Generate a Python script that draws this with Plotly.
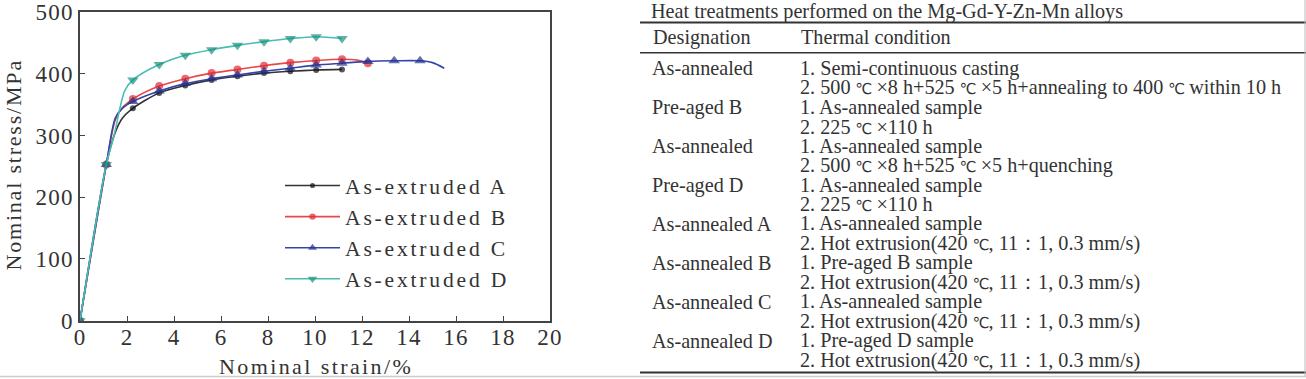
import plotly.graph_objects as go

W, H = 1306, 379

# ---------------- data ----------------
marker_strain = [0, 1.12, 2.25, 3.37, 4.48, 5.6, 6.7, 7.83, 8.95, 10.05, 11.15, 12.25, 13.37, 14.47]

strain_A = [0, 1.12, 1.5, 1.8, 2.25, 3.37, 4.48, 5.6, 6.7, 7.83, 8.95, 10.05, 11.15]
stress_A = [0, 253, 305, 328, 344, 369, 381, 390, 396, 401, 404, 406, 407]

strain_B = [0, 1.12, 1.5, 1.8, 2.25, 3.37, 4.48, 5.6, 6.7, 7.83, 8.95, 10.05, 11.15, 11.8, 12.25]
stress_B = [0, 253, 325, 345, 359, 380, 392, 401, 407, 413, 418, 421.5, 423.5, 422, 417]

strain_C = [0, 1.12, 1.5, 1.8, 2.25, 3.37, 4.48, 5.6, 6.7, 7.83, 8.95, 10.05, 11.15, 12.25, 13.37, 14.47, 15.0, 15.5]
stress_C = [0, 253, 328, 344, 355, 372, 384, 392, 398, 404, 409, 414, 417, 420, 421, 421, 418, 409]

strain_D = [0, 1.12, 1.45, 1.9, 2.25, 3.37, 4.48, 5.6, 6.7, 7.83, 8.95, 10.05, 11.15]
stress_D = [0, 253, 300, 372, 390, 415, 430, 439, 446, 452, 457, 460, 457]

series_names = ["As-extruded A", "As-extruded B", "As-extruded C", "As-extruded D"]

x_ticks = [0, 2, 4, 6, 8, 10, 12, 14, 16, 18, 20]
y_ticks = [0, 100, 200, 300, 400, 500]

table_title = "Heat treatments performed on the Mg-Gd-Y-Zn-Mn alloys"
table_headers = ["Designation", "Thermal condition"]
designations = ["As-annealed", "Pre-aged B", "As-annealed", "Pre-aged D",
                "As-annealed A", "As-annealed B", "As-annealed C", "As-annealed D"]
conditions = [
    ["1. Semi-continuous casting", "2. 500 ℃ ×8 h+525 ℃ ×5 h+annealing to 400 ℃ within 10 h"],
    ["1. As-annealed sample", "2. 225 ℃ ×110 h"],
    ["1. As-annealed sample", "2. 500 ℃ ×8 h+525 ℃ ×5 h+quenching"],
    ["1. As-annealed sample", "2. 225 ℃ ×110 h"],
    ["1. As-annealed sample", "2. Hot extrusion(420 ℃, 11：1, 0.3 mm/s)"],
    ["1. Pre-aged B sample", "2. Hot extrusion(420 ℃, 11：1, 0.3 mm/s)"],
    ["1. As-annealed sample", "2. Hot extrusion(420 ℃, 11：1, 0.3 mm/s)"],
    ["1. Pre-aged D sample", "2. Hot extrusion(420 ℃, 11：1, 0.3 mm/s)"],
]

# ---------------- style ----------------
SERIF = "Liberation Serif, Times New Roman, serif"
TXT = "#333333"
TFONT = 20.2


def sp(text, ls=2.5):
    return f'<span style="letter-spacing:{ls}px">{text}</span>'


def deg(text):
    # degree-Celsius sign drawn from a font that has it, kept narrow like the original
    return text.replace("℃", '<span style="font-family:DejaVu Sans;font-size:15px;letter-spacing:-1px">℃</span>')


def px(x):
    return x / W


def py(y):
    return 1 - y / H


styles = [
    dict(line="#333333", marker="#111111", symbol="circle", size=6),
    dict(line="#e8474c", marker="#e02b33", symbol="circle", size=8),
    dict(line="#3346a8", marker="#24318f", symbol="triangle-up", size=10),
    dict(line="#48bdb3", marker="#17917f", symbol="triangle-down", size=10),
]

fig = go.Figure()
data = [(strain_A, stress_A), (strain_B, stress_B), (strain_C, stress_C), (strain_D, stress_D)]
for (xs, ys), name, st in zip(data, series_names, styles):
    sizes = [st["size"] if x in marker_strain else 0 for x in xs]
    fig.add_trace(go.Scatter(
        x=xs, y=ys, name=sp(name, 2.8), mode="lines+markers",
        line=dict(color=st["line"], width=1.6, shape="spline", smoothing=0.8),
        marker=dict(color=st["marker"], symbol=st["symbol"], size=sizes, line=dict(width=0)),
    ))

axis_common = dict(
    showline=True, mirror=True, linecolor="#444444", linewidth=1.5,
    ticks="inside", ticklen=5, tickcolor="#444444", tickwidth=1.2,
    showgrid=False, zeroline=False, automargin=False,
    tickfont=dict(family=SERIF, size=23, color=TXT),
)
fig.update_xaxes(domain=[px(80), px(550)], range=[0, 20], tickvals=x_ticks,
                 ticktext=[sp(str(v), 1.2) for v in x_ticks], ticklabelstandoff=-5,
                 **axis_common)
fig.update_yaxes(domain=[py(320.7), py(12)], range=[0, 500], tickvals=y_ticks,
                 ticktext=[sp(str(v), 1.2) for v in y_ticks], **axis_common)

annotations = [
    dict(text=sp("Nominal stress/MPa", 1.8), x=px(12.5), y=py(165), xref="paper", yref="paper",
         textangle=-90, showarrow=False, font=dict(family=SERIF, size=22, color=TXT),
         xanchor="center", yanchor="middle", borderpad=0),
    dict(text=sp("Nominal strain/%", 2.4), x=px(316), y=py(366), xref="paper", yref="paper",
         showarrow=False, font=dict(family=SERIF, size=22, color=TXT),
         xanchor="center", yanchor="middle", borderpad=0),
    dict(text=table_title, x=px(650), y=py(11.5), xref="paper", yref="paper", showarrow=False,
         font=dict(family=SERIF, size=TFONT, color=TXT), xanchor="left", yanchor="middle",
         borderpad=0),
    dict(text=table_headers[0], x=px(651), y=py(37), xref="paper", yref="paper", showarrow=False,
         font=dict(family=SERIF, size=TFONT, color=TXT), xanchor="left", yanchor="middle"),
    dict(text=table_headers[1], x=px(799), y=py(37), xref="paper", yref="paper", showarrow=False,
         font=dict(family=SERIF, size=TFONT, color=TXT), xanchor="left", yanchor="middle"),
]
row0, step = 68.3, 19.45
for i, (des, cond) in enumerate(zip(designations, conditions)):
    y1 = row0 + step * (2 * i)
    y2 = row0 + step * (2 * i + 1)
    for txt, xx, yy in [(des, 651, y1), (cond[0], 799, y1), (deg(cond[1]), 799, y2)]:
        annotations.append(dict(text=txt, x=px(xx), y=py(yy), xref="paper", yref="paper",
                                showarrow=False, font=dict(family=SERIF, size=TFONT, color=TXT),
                                xanchor="left", yanchor="middle", borderpad=0))

shapes = [
    dict(type="line", xref="paper", yref="paper", x0=px(640), x1=1, y0=py(22.5), y1=py(22.5),
         line=dict(color="#333333", width=2)),
    dict(type="line", xref="paper", yref="paper", x0=px(640), x1=1, y0=py(52.7), y1=py(52.7),
         line=dict(color="#333333", width=1.5)),
    dict(type="line", xref="paper", yref="paper", x0=px(640), x1=1, y0=py(372.5), y1=py(372.5),
         line=dict(color="#333333", width=2)),
    dict(type="line", xref="paper", yref="paper", x0=0, x1=1, y0=py(376.5), y1=py(376.5),
         line=dict(color="#cccccc", width=1.5)),
    dict(type="line", xref="paper", yref="paper", x0=px(1305), x1=px(1305), y0=py(0), y1=py(376),
         line=dict(color="#bbbbbb", width=1)),
]

fig.update_layout(
    width=W, height=H, margin=dict(l=0, r=0, t=0, b=0, autoexpand=False),
    paper_bgcolor="white", plot_bgcolor="white",
    annotations=annotations, shapes=shapes,
    showlegend=True,
    legend=dict(x=px(280), y=py(165), xanchor="left", yanchor="top",
                bgcolor="rgba(0,0,0,0)", font=dict(family=SERIF, size=21.6, color=TXT),
                tracegroupgap=0, itemwidth=55),
)

post = (
    "document.documentElement.style.margin='0';"
    "document.body.style.margin='0';"
    "var g=document.querySelector('.plotly-graph-div');"
    "if(g){g.style.position='fixed';g.style.left='0px';g.style.top='0px';}"
)
fig.write_html("out.html", config={"displayModeBar": False}, post_script=post)
